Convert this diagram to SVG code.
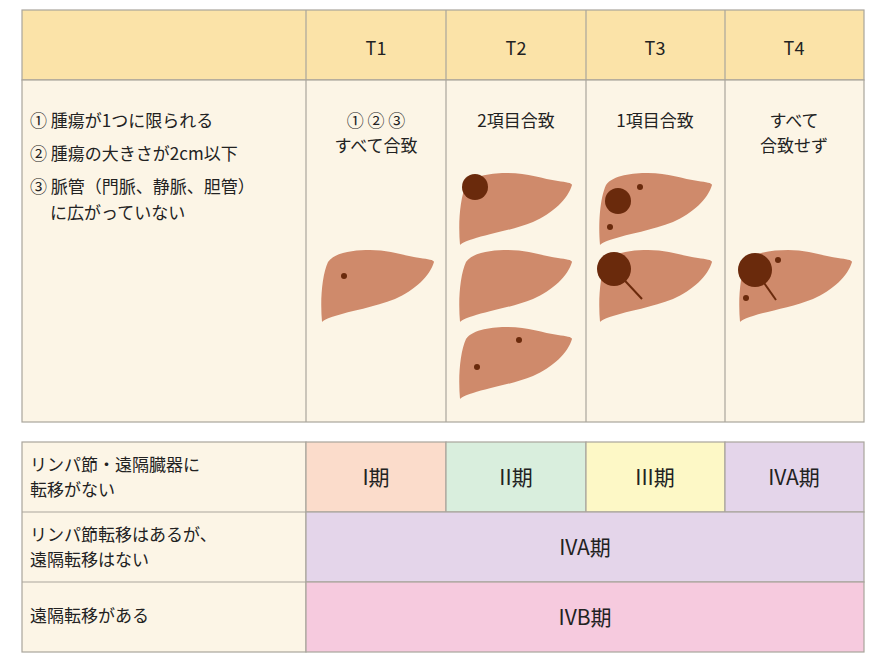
<svg xmlns="http://www.w3.org/2000/svg" width="886" height="668" viewBox="0 0 886 668">
<style>
.g{stroke:#a9a59c;stroke-width:1.2}
.t{font-family:"Noto Sans CJK JP","Noto Sans",sans-serif;font-size:18px;fill:#222}
.s{font-size:17px}
.b{font-size:21px}
.c{text-anchor:middle}
.lv{fill:#cf8a6b}
.tm{fill:#6a2a0c}
</style>
<defs>
<path id="liver" d="M2,72 C0,50 2,25 8,12 C15,2 35,0 50,0 C70,0 85,6 100,8 C108,9 114,10 114,12 C110,26 95,40 75,49 C55,57 30,61 15,66 C8,68 4,70 2,72 Z"/>
</defs>
<rect width="886" height="668" fill="#fff"/>
<g id="top-table">
<rect x="22" y="10" width="842" height="70" fill="#fbe3a8" class="g"/>
<rect x="22" y="80" width="842" height="342" fill="#fcf5e6" class="g"/>
<line x1="306" y1="10" x2="306" y2="422" class="g"/>
<line x1="446" y1="10" x2="446" y2="422" class="g"/>
<line x1="586" y1="10" x2="586" y2="422" class="g"/>
<line x1="725" y1="10" x2="725" y2="422" class="g"/>
<text class="t c" x="376" y="55">T1</text>
<text class="t c" x="516" y="55">T2</text>
<text class="t c" x="655" y="55">T3</text>
<text class="t c" x="794" y="55">T4</text>
<text class="t s" x="30" y="127">① 腫瘍が1つに限られる</text>
<text class="t s" x="30" y="160">② 腫瘍の大きさが2cm以下</text>
<text class="t s" x="30" y="193">③ 脈管（門脈、静脈、胆管）</text>
<text class="t s" x="50" y="219">に広がっていない</text>
<text class="t s c" x="376" y="127">① ② ③</text>
<text class="t s c" x="376" y="152">すべて合致</text>
<text class="t s c" x="516" y="127">2項目合致</text>
<text class="t s c" x="655" y="127">1項目合致</text>
<text class="t s c" x="794" y="127">すべて</text>
<text class="t s c" x="794" y="152">合致せず</text>
</g>
<g id="livers">
<use href="#liver" class="lv" x="320" y="250"/>
<circle class="tm" cx="344" cy="276" r="3"/>
<use href="#liver" class="lv" x="458" y="173"/>
<circle class="tm" cx="475" cy="187" r="13"/>
<use href="#liver" class="lv" x="458" y="250"/>
<use href="#liver" class="lv" x="458" y="327"/>
<circle class="tm" cx="519" cy="340" r="3"/>
<circle class="tm" cx="477" cy="367" r="3"/>
<use href="#liver" class="lv" x="598" y="173"/>
<circle class="tm" cx="618" cy="201" r="13"/>
<circle class="tm" cx="640" cy="187" r="3"/>
<circle class="tm" cx="610" cy="227" r="3"/>
<use href="#liver" class="lv" x="598" y="250"/>
<line x1="614" y1="269" x2="642" y2="299" stroke="#6a2a0c" stroke-width="2"/>
<circle class="tm" cx="614" cy="269" r="17"/>
<use href="#liver" class="lv" x="738" y="250"/>
<line x1="755" y1="270" x2="776" y2="300" stroke="#6a2a0c" stroke-width="2"/>
<circle class="tm" cx="755" cy="270" r="17"/>
<circle class="tm" cx="778" cy="260" r="3"/>
<circle class="tm" cx="746" cy="298" r="3"/>
</g>
<g id="bottom-table">
<rect x="22" y="442" width="284" height="210" fill="#fcf5e6" class="g"/>
<rect x="306" y="442" width="140" height="70" fill="#fbdccb" class="g"/>
<rect x="446" y="442" width="140" height="70" fill="#d9eedd" class="g"/>
<rect x="586" y="442" width="139" height="70" fill="#fdf8c6" class="g"/>
<rect x="725" y="442" width="139" height="70" fill="#e4d5ea" class="g"/>
<rect x="306" y="512" width="558" height="70" fill="#e4d5ea" class="g"/>
<rect x="306" y="582" width="558" height="70" fill="#f6cade" class="g"/>
<line x1="22" y1="512" x2="306" y2="512" class="g"/>
<line x1="22" y1="582" x2="306" y2="582" class="g"/>
<text class="t s" x="30" y="471">リンパ節・遠隔臓器に</text>
<text class="t s" x="30" y="496">転移がない</text>
<text class="t s" x="30" y="541">リンパ節転移はあるが、</text>
<text class="t s" x="30" y="566">遠隔転移はない</text>
<text class="t s" x="30" y="622">遠隔転移がある</text>
<text class="t b c" x="376" y="485">I期</text>
<text class="t b c" x="516" y="485">II期</text>
<text class="t b c" x="655" y="485">III期</text>
<text class="t b c" x="794" y="485">IVA期</text>
<text class="t b c" x="585" y="555">IVA期</text>
<text class="t b c" x="585" y="625">IVB期</text>
</g>
</svg>
